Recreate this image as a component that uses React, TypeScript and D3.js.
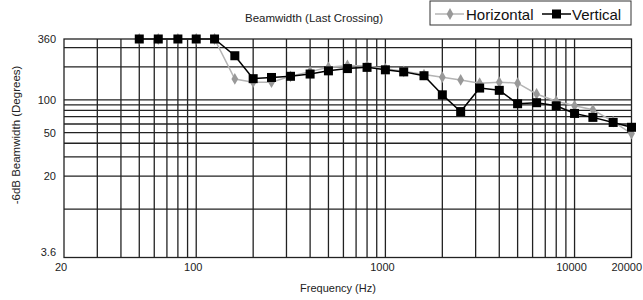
import React, { useEffect, useRef } from 'react';
import * as d3 from 'd3';

const freqs = [50, 63, 80, 100, 125, 160, 200, 250, 315, 400, 500, 630, 800, 1000, 1250, 1600, 2000, 2500, 3150, 4000, 5000, 6300, 8000, 10000, 12500, 16000, 20000];
const horizontal = [360, 360, 360, 360, 360, 155, 145, 145, 164, 181, 198, 206, 204, 192, 182, 170, 161, 152, 142, 145, 142, 113, 97, 88, 81, 63, 49];
const vertical = [360, 360, 360, 360, 360, 253, 156, 160, 164, 172, 184, 193, 198, 188, 180, 166, 111, 78, 128, 122, 92, 94, 88, 75, 69, 62, 56];

const xGrid = [30, 40, 50, 60, 70, 80, 90, 100, 200, 300, 400, 500, 600, 700, 800, 900, 1000, 2000, 3000, 4000, 5000, 6000, 7000, 8000, 9000, 10000];
const yGrid = [300, 200, 100, 90, 80, 70, 60, 50, 40, 30, 20, 10];
const xTicks = [20, 100, 1000, 10000, 20000];
const yTicks = [360, 100, 50, 20, 3.6];

const W = 643;
const H = 300;
const FONT = 'Liberation Sans, Arial, sans-serif';

const App: React.FC = () => {
  const svgRef = useRef<SVGSVGElement>(null);

  useEffect(() => {
    if (!svgRef.current) return;
    const svg = d3.select(svgRef.current);
    svg.selectAll('*').remove();

    const margin = { top: 39, right: 11.5, bottom: 42.5, left: 64 };
    const iw = W - margin.left - margin.right;
    const ih = H - margin.top - margin.bottom;

    const x = d3.scaleLog().domain([20, 20000]).range([0, iw]);
    const y = d3.scaleLog().domain([3.6, 360]).range([ih, 0]);

    const g = svg.append('g').attr('transform', `translate(${margin.left},${margin.top})`);

    // grid
    g.selectAll('line.vg')
      .data(xGrid)
      .join('line')
      .attr('x1', d => x(d)).attr('x2', d => x(d))
      .attr('y1', 0).attr('y2', ih)
      .attr('stroke', '#222').attr('stroke-width', 1.3);

    g.selectAll('line.hg')
      .data(yGrid)
      .join('line')
      .attr('x1', 0).attr('x2', iw)
      .attr('y1', d => y(d)).attr('y2', d => y(d))
      .attr('stroke', '#222').attr('stroke-width', 1.3);

    g.append('rect')
      .attr('width', iw).attr('height', ih)
      .attr('fill', 'none').attr('stroke', '#222').attr('stroke-width', 1.3);

    // tick labels
    g.selectAll('text.xt')
      .data(xTicks)
      .join('text')
      .attr('x', (d, i) => (i === xTicks.length - 1 ? W - margin.left - 1 : x(d) - 3))
      .attr('y', ih + 13)
      .attr('text-anchor', (d, i) => (i === xTicks.length - 1 ? 'end' : 'middle'))
      .attr('font-family', FONT).attr('font-size', 11).attr('fill', '#222')
      .text(d => String(d));

    g.selectAll('text.yt')
      .data(yTicks)
      .join('text')
      .attr('x', -8)
      .attr('y', d => y(d) + (d === 3.6 ? -2 : 4))
      .attr('text-anchor', 'end')
      .attr('font-family', FONT).attr('font-size', 11).attr('fill', '#222')
      .text(d => String(d));

    // series
    const line = d3.line<[number, number]>()
      .x(d => x(d[0]))
      .y(d => y(d[1]));

    const hData = freqs.map((f, i) => [f, horizontal[i]] as [number, number]);
    const vData = freqs.map((f, i) => [f, vertical[i]] as [number, number]);

    g.append('path')
      .datum(hData)
      .attr('fill', 'none').attr('stroke', '#b4b4b4').attr('stroke-width', 1.5)
      .attr('d', line);

    g.selectAll('path.hm')
      .data(hData)
      .join('path')
      .attr('transform', d => `translate(${x(d[0])},${y(d[1])})`)
      .attr('d', d3.symbol(d3.symbolDiamond, 40)())
      .attr('fill', '#999');

    g.append('path')
      .datum(vData)
      .attr('fill', 'none').attr('stroke', '#000').attr('stroke-width', 1.5)
      .attr('d', line);

    g.selectAll('rect.vm')
      .data(vData)
      .join('rect')
      .attr('x', d => x(d[0]) - 4.5)
      .attr('y', d => y(d[1]) - 4.5)
      .attr('width', 9).attr('height', 9)
      .attr('fill', '#000');

    // titles
    svg.append('text')
      .attr('x', 314).attr('y', 22)
      .attr('text-anchor', 'middle')
      .attr('font-family', FONT).attr('font-size', 11.5).attr('fill', '#222')
      .text('Beamwidth (Last Crossing)');

    svg.append('text')
      .attr('x', 338).attr('y', 292)
      .attr('text-anchor', 'middle')
      .attr('font-family', FONT).attr('font-size', 11).attr('fill', '#222')
      .text('Frequency (Hz)');

    svg.append('text')
      .attr('transform', `translate(20,135) rotate(-90)`)
      .attr('text-anchor', 'middle')
      .attr('font-family', FONT).attr('font-size', 11.5).attr('fill', '#222')
      .text('-6dB Beamwidth (Degrees)');

    // legend
    const legend = svg.append('g').attr('transform', 'translate(430,1)');
    legend.append('rect')
      .attr('width', 201).attr('height', 24)
      .attr('fill', '#fff').attr('stroke', '#333').attr('stroke-width', 1);

    const items = [
      { label: 'Horizontal', x0: 5, tx: 36, color: '#b4b4b4', marker: 'diamond' },
      { label: 'Vertical', x0: 112, tx: 142, color: '#000', marker: 'square' },
    ];
    items.forEach(it => {
      legend.append('line')
        .attr('x1', it.x0).attr('x2', it.x0 + 29)
        .attr('y1', 13).attr('y2', 13)
        .attr('stroke', it.color).attr('stroke-width', 1.5);
      if (it.marker === 'diamond') {
        legend.append('path')
          .attr('transform', `translate(${it.x0 + 15},13)`)
          .attr('d', d3.symbol(d3.symbolDiamond, 40)())
          .attr('fill', '#999');
      } else {
        legend.append('rect')
          .attr('x', it.x0 + 10).attr('y', 8.5)
          .attr('width', 9).attr('height', 9)
          .attr('fill', '#000');
      }
      legend.append('text')
        .attr('x', it.tx).attr('y', 19)
        .attr('font-family', FONT).attr('font-size', 15).attr('fill', '#111')
        .text(it.label);
    });
  }, []);

  return (
    <svg
      ref={svgRef}
      width={W}
      height={H}
      style={{ position: 'absolute', left: 0, top: 0, background: '#fff' }}
    />
  );
};

export default App;
